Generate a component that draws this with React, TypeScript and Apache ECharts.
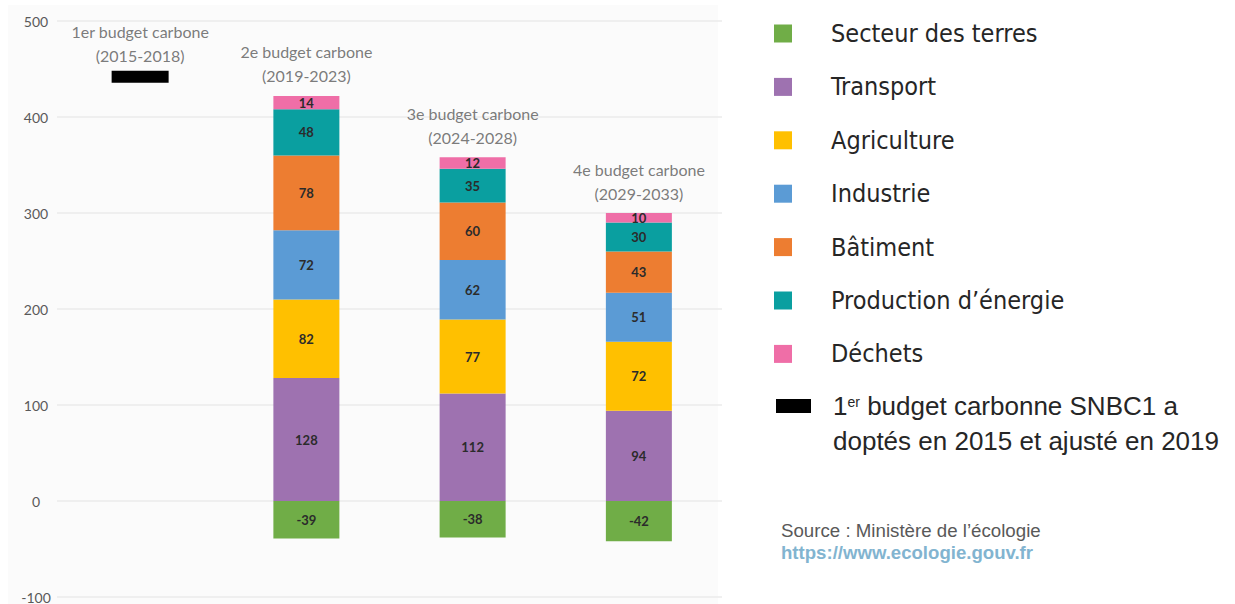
import React, { useEffect, useRef } from "react";
import * as echarts from "echarts";

const categories = ["1er budget carbone", "2e budget carbone", "3e budget carbone", "4e budget carbone"];
const periods = ["(2015-2018)", "(2019-2023)", "(2024-2028)", "(2029-2033)"];

const secteurTerres = [null, -39, -38, -42];
const transport = [null, 128, 112, 94];
const agriculture = [null, 82, 77, 72];
const industrie = [null, 72, 62, 51];
const batiment = [null, 78, 60, 43];
const productionEnergie = [null, 48, 35, 30];
const dechets = [null, 14, 12, 10];
const premierBudget = [442, null, null, null];

const sectorNames = [
  "Secteur des terres",
  "Transport",
  "Agriculture",
  "Industrie",
  "Bâtiment",
  "Production d’énergie",
  "Déchets",
];
const sectorColors = ["#70ad47", "#9e72b0", "#ffc000", "#5b9bd5", "#ed7d31", "#0a9fa0", "#ef6ea7"];
const sectorValues = [secteurTerres, transport, agriculture, industrie, batiment, productionEnergie, dechets];

const premierName = "1er budget carbonne SNBC1 adoptés en 2015 et ajusté en 2019";

const yTicks = { min: -100, max: 500, interval: 100 };

export default function App() {
  const ref = useRef<HTMLDivElement>(null);

  useEffect(() => {
    document.body.style.margin = "0";
    if (!ref.current) return;
    const chart = echarts.init(ref.current, null, { renderer: "svg" });

    const totals = categories.map((_, i) => {
      if (premierBudget[i] != null) return premierBudget[i] as number;
      let s = 0;
      sectorValues.forEach((arr) => {
        const v = arr[i];
        if (v != null && v > 0) s += v;
      });
      return s;
    });

    const barSeries = sectorNames.map((name, k) => ({
      name,
      type: "bar",
      stack: "total",
      barWidth: 66,
      data: sectorValues[k],
      itemStyle: { color: sectorColors[k] },
      label: {
        show: true,
        position: "inside",
        color: "#2b2b2b",
        fontFamily: "Lato",
        fontSize: 13,
        fontWeight: "bold",
      },
      emphasis: { disabled: true },
    }));

    const option: any = {
      animation: false,
      tooltip: { show: false },
      graphic: [
        {
          type: "rect",
          z: -10,
          shape: { x: 8, y: 5, width: 710, height: 604 },
          style: { fill: "#fbfbfb" },
          silent: true,
        },
        {
          type: "text",
          left: 781,
          top: 521,
          style: {
            text: "Source : Ministère de l’écologie",
            fill: "#595959",
            font: "18.7px 'Liberation Sans'",
          },
        },
        {
          type: "text",
          left: 781,
          top: 543,
          style: {
            text: "https://www.ecologie.gouv.fr",
            fill: "#82b4d0",
            font: "bold 18.6px 'Liberation Sans'",
          },
        },
      ],
      grid: { left: 57, right: 513, top: 21, bottom: 2, containLabel: false },
      xAxis: {
        type: "category",
        data: categories,
        axisLine: { show: false },
        axisTick: { show: false },
        axisLabel: { show: false },
      },
      yAxis: {
        type: "value",
        min: yTicks.min,
        max: yTicks.max,
        interval: yTicks.interval,
        axisLine: { show: false },
        axisTick: { show: false },
        splitLine: { lineStyle: { color: "#ebebeb", width: 1.5 } },
        axisLabel: {
          color: "#595959",
          fontFamily: "Lato",
          fontSize: 14,
          align: "center",
          margin: 21,
        },
      },
      legend: [
        {
          orient: "vertical",
          left: 774,
          top: 21,
          padding: 0,
          itemWidth: 18,
          itemHeight: 18,
          itemGap: 28.4,
          selectedMode: false,
          icon: "rect",
          data: sectorNames,
          formatter: (n: string) => "{a|" + n + "}",
          textStyle: {
            rich: {
              a: {
                fontFamily: "'DejaVu Sans Condensed', 'DejaVu Sans'",
                fontSize: 25,
                lineHeight: 24,
                color: "#262626",
                padding: [0, 0, 0, 34],
              },
            },
          },
        },
        {
          orient: "vertical",
          left: 776,
          top: 366,
          padding: 0,
          itemWidth: 35,
          itemHeight: 14,
          selectedMode: false,
          icon: "rect",
          data: [premierName],
          formatter: () =>
            "{b| }\n{t|1}{s|er}{t| budget carbonne SNBC1 a}\n{t|doptés en 2015 et ajusté en 2019}",
          textStyle: {
            rich: {
              b: { fontSize: 10, lineHeight: 35 },
              t: {
                fontFamily: "'Liberation Sans'",
                fontSize: 26,
                lineHeight: 35,
                color: "#262626",
              },
              s: {
                fontFamily: "'Liberation Sans'",
                fontSize: 14,
                lineHeight: 16,
                padding: [6, 0, 0, 0],
                verticalAlign: "top",
                color: "#262626",
              },
            },
            padding: [0, 0, 0, 17],
          },
        },
      ],
      series: [
        ...barSeries,
        {
          name: premierName,
          type: "scatter",
          symbol: "rect",
          symbolSize: [57, 12],
          data: premierBudget,
          itemStyle: { color: "#000000", opacity: 1 },
          emphasis: { disabled: true },
        },
        {
          name: "annotations",
          type: "scatter",
          symbolSize: 0,
          silent: true,
          data: totals.map((v, i) => ({
            value: v,
            label: { distance: i === 0 ? 9 : 8 },
          })),
          label: {
            show: true,
            position: "top",
            formatter: (p: any) => categories[p.dataIndex] + "\n" + periods[p.dataIndex],
            color: "#595959",
            fontFamily: "Lato",
            fontSize: 16,
            lineHeight: 24,
            align: "center",
          },
        },
      ],
    };

    chart.setOption(option);
    return () => chart.dispose();
  }, []);

  return <div ref={ref} style={{ width: 1235, height: 604 }} />;
}
